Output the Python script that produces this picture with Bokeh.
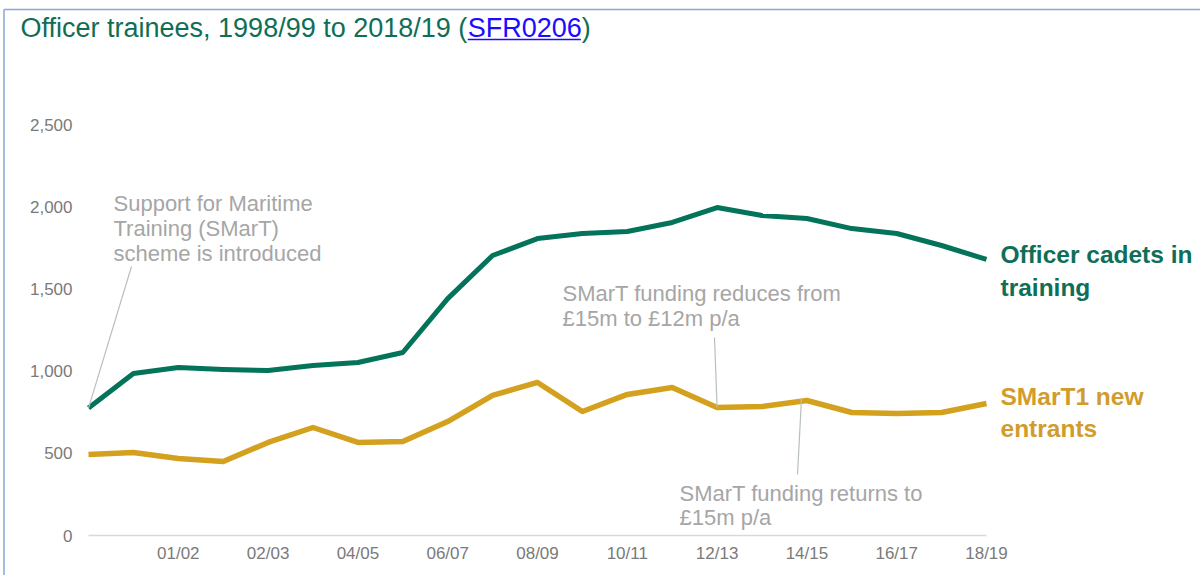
from bokeh.plotting import figure
from bokeh.models import Range1d, FixedTicker
from bokeh.core.properties import value
from bokeh.embed import file_html
from bokeh.resources import INLINE

# ---- data ----
year_index = list(range(21))  # 0 = 1998/99 ... 20 = 2018/19
tick_positions = [2, 4, 6, 8, 10, 12, 14, 16, 18, 20]
tick_labels = ["01/02", "02/03", "04/05", "06/07", "08/09",
               "10/11", "12/13", "14/15", "16/17", "18/19"]
cadets = [775, 985, 1022, 1010, 1004, 1034, 1052, 1113, 1441, 1703, 1806,
          1837, 1849, 1904, 1995, 1946, 1928, 1867, 1837, 1764, 1679]
smart1 = [493, 505, 468, 450, 566, 657, 566, 572, 693, 852, 931,
          754, 858, 900, 779, 785, 821, 748, 742, 748, 803]
y_ticks = [0, 500, 1000, 1500, 2000, 2500]

GREEN = "#03735a"
GOLD = "#d4a11e"
GREEN_TXT = "#0e6e57"
GOLD_TXT = "#d19c2c"
GREY_TXT = "#a6a6a6"
LEADER = "#b8bfbf"
LINK = "#1a0dff"
BORDER = "#86a8d6"
FONT = "Liberation Sans"

# layout geometry (page pixels; canvas starts at page 0,0)
W, H = 1200, 575
FRAME_L, FRAME_R, FRAME_T, FRAME_B = 0, W, 0, H
X0_PX, X_STEP = 88, 44.9          # where year 0 sits, px per year
Y0_PX, Y_SCALE = 535, 82.2 / 500  # where value 0 sits, px per unit


def px2x(px):
    return (px - X0_PX) / X_STEP


def py2y(py):
    return (Y0_PX - py) / Y_SCALE


p = figure(width=W, height=H, output_backend="svg", toolbar_location=None,
           x_range=Range1d(px2x(FRAME_L), px2x(FRAME_R)),
           y_range=Range1d(py2y(FRAME_B), py2y(FRAME_T)),
           min_border_left=0, min_border_right=0, min_border_top=0,
           min_border_bottom=0)
p.outline_line_color = None
p.background_fill_color = "white"
p.border_fill_color = "white"
p.xgrid.visible = False
p.ygrid.visible = False

# axes
p.yaxis.ticker = FixedTicker(ticks=y_ticks)
p.yaxis.major_label_overrides = {v: f"{v:,}" for v in y_ticks}
p.xaxis.ticker = FixedTicker(ticks=tick_positions)
p.xaxis.major_label_overrides = dict(zip(tick_positions, tick_labels))
for ax in (p.xaxis, p.yaxis):
    ax.axis_line_color = None
    ax.major_tick_line_color = None
    ax.minor_tick_line_color = None
    ax.major_tick_out = 0
    ax.major_tick_in = 0
    ax.minor_tick_out = 0
    ax.minor_tick_in = 0
    ax.major_label_text_font = FONT
    ax.major_label_text_font_size = "17px"
    ax.major_label_text_color = "#7a7a7a"
p.yaxis.major_label_standoff = -(72 - FRAME_L)
p.xaxis.major_label_standoff = -(FRAME_B - 543)

# frame border (light blue rule at top and left)
p.segment(x0=[px2x(3.5), px2x(3.5)], y0=[py2y(9), py2y(9)],
          x1=[px2x(W), px2x(3.5)], y1=[py2y(9), py2y(H)],
          line_color=BORDER, line_width=1.5)

# zero baseline
p.line([year_index[0], year_index[-1]], [y_ticks[0], y_ticks[0]],
       line_color="#d9d9d9", line_width=1.5)

# lines
p.line(year_index, cadets, line_color=GREEN, line_width=5, line_join="round")
p.line(year_index, smart1, line_color=GOLD, line_width=5.5, line_join="round")

# leader lines
p.segment(x0=[year_index[0], px2x(714), px2x(801)],
          y0=[cadets[0], py2y(337), py2y(398)],
          x1=[px2x(131), year_index[14], px2x(797)],
          y1=[py2y(266), smart1[14], py2y(474)],
          line_color=LEADER, line_width=1.2)

ann = dict(text_font=value(FONT), text_font_size="22px", text_color=GREY_TXT,
           text_baseline="middle", text_align="left")
p.text(x=[px2x(113)] * 3, y=[py2y(203), py2y(228), py2y(253)],
       text=["Support for Maritime", "Training (SMarT)", "scheme is introduced"], **ann)
p.text(x=[px2x(562)] * 2, y=[py2y(293), py2y(318)],
       text=["SMarT funding reduces from", "£15m to £12m p/a"], **ann)
p.text(x=[px2x(679)] * 2, y=[py2y(493), py2y(517)],
       text=["SMarT funding returns to", "£15m p/a"], **ann)

# series labels
lab = dict(text_font=value(FONT), text_font_size="24.5px", text_font_style="bold",
           text_baseline="middle", text_align="left")
p.text(x=[px2x(1000)] * 2, y=[py2y(254), py2y(287)],
       text=["Officer cadets in", "training"], text_color=GREEN_TXT, **lab)
p.text(x=[px2x(1000)] * 2, y=[py2y(396), py2y(428)],
       text=["SMarT1 new", "entrants"], text_color=GOLD_TXT, **lab)

# title
TS = 27
t1_x = 20
t2_x = t1_x + 16.565 * TS
t3_x = t2_x + 4.224 * TS
tit = dict(text_font=value(FONT), text_font_size=f"{TS}px",
           text_baseline="middle", text_align="left")
p.text(x=[px2x(t1_x)], y=[py2y(27)], text=["Officer trainees, 1998/99 to 2018/19 ("],
       text_color=GREEN_TXT, **tit)
p.text(x=[px2x(t2_x)], y=[py2y(27)], text=["SFR0206"], text_color=LINK, **tit)
p.text(x=[px2x(t3_x)], y=[py2y(27)], text=[")"], text_color=GREEN_TXT, **tit)
p.segment(x0=[px2x(t2_x)], y0=[py2y(39)], x1=[px2x(t3_x - 1)], y1=[py2y(39)],
          line_color=LINK, line_width=1.5)

open("out.html", "w").write(file_html(p, INLINE))
